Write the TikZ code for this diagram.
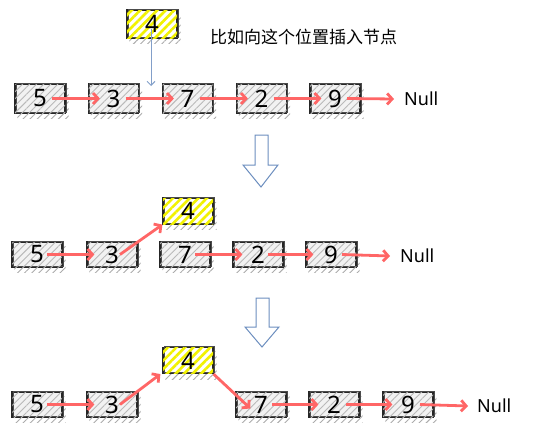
\documentclass[tikz,border=0pt]{standalone}
\usepackage{fontspec}
\setmainfont{Noto Sans}
\newfontfamily\cjk{Noto Sans CJK SC}
\usetikzlibrary{arrows.meta,patterns.meta,backgrounds}
\definecolor{redarr}{HTML}{FF6666}
\definecolor{bluearr}{HTML}{6C8EBF}
\definecolor{hlyellow}{HTML}{F2F200}
\tikzset{
  hatch/.style={pattern={Lines[angle=45,distance=5pt,line width=0.9pt]}, pattern color=#1},
  yhatch/.style={pattern={Lines[angle=45,distance=6pt,line width=2.6pt]}, pattern color=hlyellow},
  basebox/.style={draw=black!85, line width=1.2pt, minimum width=50pt, minimum height=27pt,
    inner sep=0pt, font=\fontsize{24}{24}\selectfont,
    postaction={draw=black!70, line width=0.6pt, transform canvas={shift={(1.2pt,1pt)}}}},
  box/.style={basebox, fill=gray!10, preaction={fill=gray!10}, postaction={hatch=gray!55}},
  ybox/.style={basebox, fill=white, preaction={fill=white}, postaction={yhatch}},
  shade/.style={hatch=gray!65},
  link/.style={draw=redarr, line width=2.8pt, -{Straight Barb[length=5pt,width=11pt]}},
  nulltxt/.style={font=\fontsize{18}{18}\selectfont, inner sep=0pt, anchor=west},
  hollow/.style={draw=bluearr, line width=1pt, fill=white}
}
\begin{document}
\begin{tikzpicture}[x=1pt,y=-1pt]
\useasboundingbox (0,0) rectangle (533,439);
% ---------- row 1 ----------
\node[ybox, minimum height=28pt] (t4) at (152,24) {4};
\node[font=\cjk\fontsize{17}{17}\selectfont, anchor=west, inner sep=0pt] (cap) at (210,37) {比如向这个位置插入节点};
\node[box, minimum height=29pt] (a5) at (40,98.5) {5};
\node[box, minimum height=29pt] (a3) at (113.5,98.5) {3};
\node[box, minimum height=29pt] (a7) at (187.5,98.5) {7};
\node[box, minimum height=29pt] (a2) at (261.5,98.5) {2};
\node[box, minimum height=29pt] (a9) at (335,98.5) {9};
\node[nulltxt] (an) at (404,99) {Null};
\coordinate (ins) at (151,86);
\draw[draw=bluearr!85, line width=1pt, -{Straight Barb[length=4pt,width=8pt]}] ([yshift=10pt]t4.south -| ins) -- (ins);
\draw[link] ([xshift=12pt]a5.center) -- ([xshift=12pt]a3.west);
\draw[link] ([xshift=12pt]a3.center) -- ([xshift=12pt]a7.west);
\draw[link] ([xshift=12pt]a7.center) -- ([xshift=12pt]a2.west);
\draw[link] ([xshift=12pt]a2.center) -- ([xshift=12pt]a9.west);
\draw[link] ([xshift=12pt]a9.center) -- ([xshift=-10pt]an.west);
% hollow arrow 1
\draw[hollow] (255,135) -- (268,135) -- (268,165) -- (278,165) -- (261,187) -- (243,165) -- (255,165) -- cycle;
% ---------- row 2 ----------
\node[ybox, minimum height=26pt] (b4) at (188,211) {4};
\node[box, minimum height=25pt] (b5) at (37,254.5) {5};
\node[box, minimum height=25pt] (b3) at (112,254.5) {3};
\node[box, minimum height=25pt] (b7) at (185,254.5) {7};
\node[box, minimum height=25pt] (b2) at (258,254.5) {2};
\node[box, minimum height=25pt] (b9) at (331,254.5) {9};
\node[nulltxt] (bn) at (400,256) {Null};
\draw[link] ([xshift=10pt]b5.center) -- ([xshift=8pt]b3.west);
\draw[link] ([xshift=8pt]b3.center) -- (b4.south west);
\draw[link] ([xshift=10pt]b7.center) -- ([xshift=10pt]b2.west);
\draw[link] ([xshift=10pt]b2.center) -- ([xshift=8pt]b9.west);
\draw[link] ([xshift=11pt]b9.center) -- ([xshift=-10pt]bn.west);
% hollow arrow 2
\draw[hollow] (256,298) -- (269,298) -- (269,327) -- (279,327) -- (262,347) -- (245,327) -- (256,327) -- cycle;
% ---------- row 3 ----------
\node[ybox, minimum height=26pt] (c4) at (188,360.5) {4};
\node[box, minimum height=25pt] (c5) at (37,404.5) {5};
\node[box, minimum height=25pt] (c3) at (112,404.5) {3};
\node[box, minimum height=25pt] (c7) at (261,404.5) {7};
\node[box, minimum height=25pt] (c2) at (334,404.5) {2};
\node[box, minimum height=25pt] (c9) at (408,404.5) {9};
\node[nulltxt] (cn) at (477,406) {Null};
\draw[link] ([xshift=10pt]c5.center) -- ([xshift=8pt]c3.west);
\draw[link] ([xshift=8pt]c3.center) -- ([xshift=-2pt]c4.south west);
\draw[link] (c4.south east) -- ([xshift=15pt,yshift=-4pt]c7.west);
\draw[link] ([xshift=11pt]c7.center) -- ([xshift=10pt]c2.west);
\draw[link] ([xshift=12pt]c2.center) -- ([xshift=10pt]c9.west);
\draw[link] ([xshift=12pt]c9.center) -- ([xshift=-9pt]cn.west);
% ---------- shadows ----------
\begin{scope}[on background layer]
\foreach \n in {t4,a5,a3,a7,a2,a9,b4,b5,b3,b7,b2,b9,c4,c5,c3,c7,c2,c9}
  \fill[shade] ([shift={(3,5)}]\n.south west) rectangle ([shift={(3,5)}]\n.north east);
\end{scope}
\end{tikzpicture}
\end{document}
